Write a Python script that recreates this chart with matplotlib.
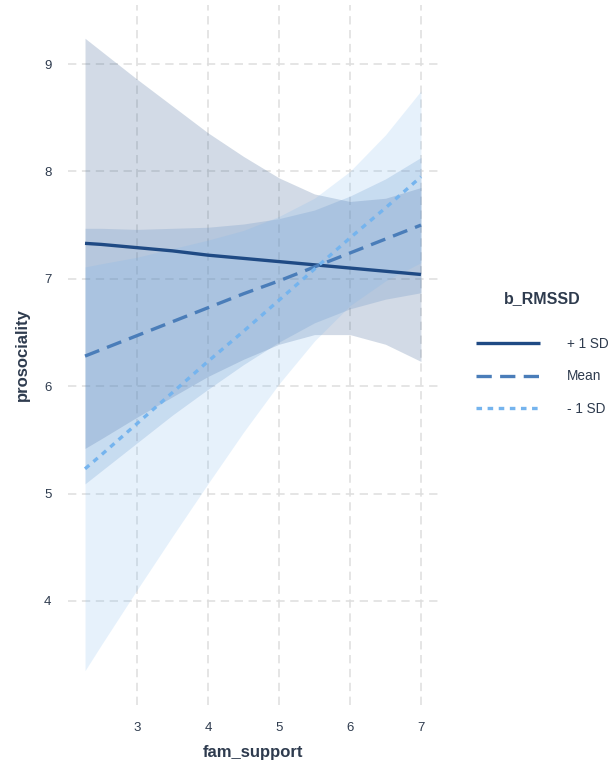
import matplotlib
matplotlib.use("Agg")
import matplotlib.pyplot as plt
import numpy as np

plt.rcParams['font.family'] = ['Liberation Sans', 'DejaVu Sans']
plt.rcParams['lines.scale_dashes'] = False

# Data
fam_support = [2.27, 2.5, 3.0, 3.5, 4.0, 4.5, 5.0, 5.5, 6.0, 6.5, 7.0]

fit_plus = [7.33, 7.32, 7.29, 7.26, 7.22, 7.19, 7.16, 7.13, 7.10, 7.07, 7.04]
lo_plus = [5.42, 5.51, 5.71, 5.90, 6.09, 6.25, 6.39, 6.48, 6.48, 6.39, 6.23]
hi_plus = [9.24, 9.12, 8.86, 8.61, 8.36, 8.14, 7.94, 7.79, 7.72, 7.75, 7.85]

fit_mean = [6.28, 6.34, 6.47, 6.60, 6.73, 6.86, 6.98, 7.11, 7.24, 7.37, 7.50]
lo_mean = [5.09, 5.21, 5.47, 5.73, 5.97, 6.20, 6.41, 6.59, 6.72, 6.81, 6.87]
hi_mean = [7.47, 7.47, 7.46, 7.47, 7.48, 7.51, 7.56, 7.64, 7.77, 7.93, 8.13]

fit_minus = [5.23, 5.36, 5.65, 5.94, 6.23, 6.51, 6.80, 7.09, 7.38, 7.66, 7.95]
lo_minus = [3.35, 3.59, 4.10, 4.60, 5.09, 5.57, 6.02, 6.42, 6.75, 6.98, 7.15]
hi_minus = [7.11, 7.14, 7.20, 7.28, 7.36, 7.45, 7.58, 7.75, 8.00, 8.34, 8.75]

levels = ['+ 1 SD', 'Mean', '- 1 SD']
colors = ['#1F4A84', '#4A7DB9', '#75B4EE']
dashes = [None, (0, (11, 6)), (0, (4, 4))]

x_ticks = [3, 4, 5, 6, 7]
y_ticks = [4, 5, 6, 7, 8, 9]

text_col = '#2E3B4E'

fig = plt.figure(figsize=(6.14, 7.67), dpi=100)
ax = fig.add_axes([0.1107, 0.0808, 0.6027, 0.9127])

fits = [fit_plus, fit_mean, fit_minus]
los = [lo_plus, lo_mean, lo_minus]
his = [hi_plus, hi_mean, hi_minus]

alphas = [0.2, 0.2, 0.18]
for lo, hi, c, a in zip(los, his, colors, alphas):
    ax.fill_between(fam_support, lo, hi, color=c, alpha=a, linewidth=0)

handles = []
for fit, c, d, lab in zip(fits, colors, dashes, levels):
    kw = dict(color=c, linewidth=2.4, label=lab, solid_capstyle='butt', dash_capstyle='butt')
    if d is not None:
        kw['linestyle'] = d
    h, = ax.plot(fam_support, fit, **kw)
    handles.append(h)

ax.set_xlim(2.03, 7.24)
ax.set_ylim(3.03, 9.55)
ax.set_xticks(x_ticks)
ax.set_yticks(y_ticks)
ax.grid(True, color='#DEDEDE', linewidth=1.1, linestyle=(0, (6, 4)))
ax.set_axisbelow(True)
for s in ax.spines.values():
    s.set_visible(False)
ax.tick_params(length=0, labelsize=9.5, labelcolor=text_col, pad=12)
ax.set_xlabel('fam_support', fontsize=12, fontweight='bold', color=text_col, labelpad=8)
ax.set_ylabel('prosociality', fontsize=12, fontweight='bold', color=text_col, labelpad=10)

leg = fig.legend(handles=handles, labels=levels, loc='center left',
                 bbox_to_anchor=(0.755, 0.539), frameon=False,
                 title='b_RMSSD', title_fontproperties={'weight': 'bold', 'size': 11.5},
                 fontsize=9.8, handlelength=4.7, handletextpad=2.0, labelspacing=1.38)
leg.get_title().set_color(text_col)
for t in leg.get_texts():
    t.set_color(text_col)
leg._legend_box.sep = 22

fig.savefig('out.png', dpi=100)
